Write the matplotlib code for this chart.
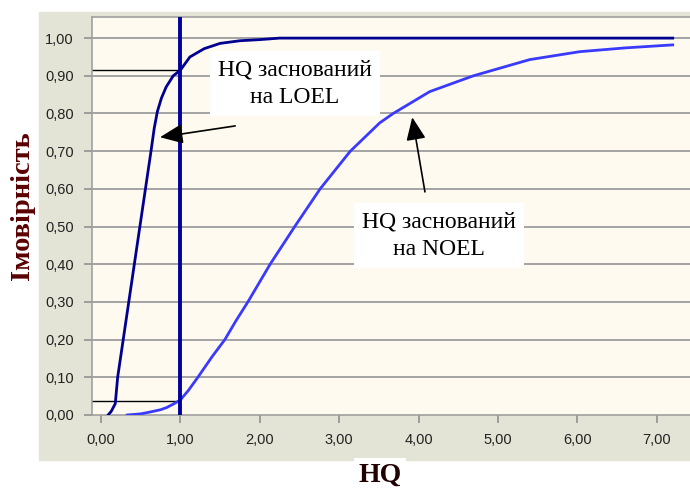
import matplotlib.pyplot as plt
from matplotlib.patches import Rectangle

# HQ values and cumulative probability
LOEL_X = [0.09, 0.13, 0.18, 0.21, 0.28, 0.35, 0.42, 0.49, 0.56, 0.63, 0.67, 0.71, 0.76,
          0.82, 0.91, 1.00, 1.12, 1.30, 1.50, 1.75, 2.00, 2.25, 3.00, 5.00, 7.20]
LOEL_Y = [0.00, 0.01, 0.03, 0.10, 0.20, 0.30, 0.40, 0.50, 0.60, 0.70, 0.76, 0.805, 0.84,
          0.87, 0.90, 0.915, 0.95, 0.972, 0.986, 0.993, 0.996, 1.00, 1.00, 1.00, 1.00]

NOEL_X = [0.33, 0.50, 0.62, 0.75, 0.83, 0.92, 1.00, 1.10, 1.22, 1.40, 1.56, 1.70, 1.85,
          2.13, 2.44, 2.76, 3.14, 3.51, 3.68, 4.14, 4.69, 5.40, 6.03, 6.60, 7.20]
NOEL_Y = [0.00, 0.003, 0.008, 0.014, 0.02, 0.03, 0.04, 0.065, 0.10, 0.155, 0.20, 0.25, 0.30,
          0.40, 0.50, 0.60, 0.70, 0.775, 0.80, 0.858, 0.90, 0.943, 0.964, 0.974, 0.982]

HQ_MARK = 1.0
P_LOEL_AT_1 = 0.915
P_NOEL_AT_1 = 0.037

X_TICKS = [0, 1, 2, 3, 4, 5, 6, 7]
Y_TICKS = [0.0, 0.1, 0.2, 0.3, 0.4, 0.5, 0.6, 0.7, 0.8, 0.9, 1.0]

PANEL = "#e4e4d6"
PLOT_BG = "#fefaf0"
GRID = "#a3a3a3"
NAVY = "#000090"
BLUE = "#3a3aff"


def fmt(v):
    return f"{v:.2f}".replace(".", ",")


fig = plt.figure(figsize=(6.9, 4.88), dpi=100)
fig.patches.append(Rectangle((39 / 690, 1 - 460 / 488), 1 - 39 / 690, (460 - 12) / 488,
                             transform=fig.transFigure, color=PANEL, zorder=-1))

ax = fig.add_axes([92 / 690, 1 - 415 / 488, 1 - 92 / 690, (415 - 17) / 488])
ax.set_zorder(1)
ax.set_facecolor(PLOT_BG)
ax.set_xlim(-0.113, 7.418)
ax.set_ylim(0, 1.056)

for y in Y_TICKS[1:]:
    ax.axhline(y, color=GRID, lw=1.4, zorder=1)

ax.plot([ax.get_xlim()[0], HQ_MARK], [P_LOEL_AT_1] * 2, color="black", lw=1, zorder=2)
ax.plot([ax.get_xlim()[0], HQ_MARK], [P_NOEL_AT_1] * 2, color="black", lw=1, zorder=2)

ax.plot(LOEL_X, LOEL_Y, color=NAVY, lw=2.0, zorder=3)
ax.plot(NOEL_X, NOEL_Y, color=BLUE, lw=2.0, zorder=3)
ax.axvline(HQ_MARK, color="#0000a0", lw=2.8, zorder=4)

ax.set_xticks(X_TICKS)
ax.set_xticklabels([fmt(v) for v in X_TICKS])
ax.set_yticks(Y_TICKS)
ax.set_yticklabels([fmt(v) for v in Y_TICKS])
ax.tick_params(colors="#909090", length=6, width=1.2, labelcolor="#222222",
               labelsize=10.5, pad=7)
for lbl in ax.get_xticklabels() + ax.get_yticklabels():
    lbl.set_family("Liberation Sans")
for side in ["left", "bottom", "top"]:
    ax.spines[side].set_color("#a0a0a0")
    ax.spines[side].set_linewidth(1.2)
ax.spines["right"].set_visible(False)

box = dict(boxstyle="square,pad=0.35", fc="white", ec="none")
arrow = dict(arrowstyle="-|>,head_length=1.4,head_width=0.6", color="black", lw=1.2,
             shrinkA=0, shrinkB=0)
ax.annotate("", xy=(0.743, 0.737), xytext=(1.69, 0.767), arrowprops=arrow, zorder=5)
ax.annotate("", xy=(3.92, 0.790), xytext=(4.08, 0.592), arrowprops=arrow, zorder=5)
ax.text(2.44, 0.879, "HQ заснований\nна LOEL", ha="center", va="center",
        family="Liberation Serif", fontsize=17, linespacing=1.4, bbox=box, zorder=6)
ax.text(4.26, 0.476, "HQ заснований\nна NOEL", ha="center", va="center",
        family="Liberation Serif", fontsize=17, linespacing=1.4, bbox=box, zorder=6)

fig.text(23 / 690, 1 - 206 / 488, "Імовірність", rotation=90, ha="center", va="center",
         family="Liberation Serif", fontweight="bold", fontsize=20.5, color="#5a0000")
fig.text(380 / 690, 1 - 475 / 488, "HQ", ha="center", va="center",
         family="Liberation Serif", fontweight="bold", fontsize=20, color="#200000",
         bbox=dict(boxstyle="square,pad=0.15", fc="white", ec="none"))

fig.savefig("out.png", dpi=100)
